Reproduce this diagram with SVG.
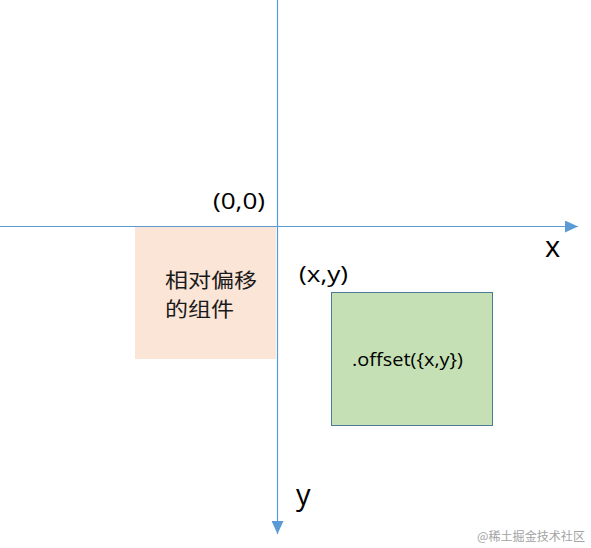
<svg xmlns="http://www.w3.org/2000/svg" width="591" height="548" viewBox="0 0 591 548">
<style>
.axis{stroke:#5B9BD5;stroke-width:1.2;fill:none}
.lbl{font-family:"Open Sans","Liberation Sans",sans-serif;fill:#000}
.cjk{font-family:"Noto Sans CJK SC","Noto Sans CJK JP",sans-serif;fill:#1a1a1a}
</style>
<defs>
<marker id="arr" markerUnits="userSpaceOnUse" markerWidth="14" markerHeight="12" refX="13" refY="6" orient="auto">
<path d="M0,0 L13,6 L0,12 Z" fill="#5B9BD5"/>
</marker>
</defs>
<rect width="591" height="548" fill="#fff"/>
<g id="parent">
<rect x="135" y="227" width="141" height="132" fill="#FBE5D6"/>
<text class="cjk" x="165" y="288" font-size="20" textLength="92" lengthAdjust="spacingAndGlyphs">相对偏移</text>
<text class="cjk" x="165" y="317" font-size="20" textLength="69" lengthAdjust="spacingAndGlyphs">的组件</text>
</g>
<g id="child">
<rect x="331.5" y="292.5" width="161" height="133" fill="#C5E0B4" stroke="#4A7A94" stroke-width="1"/>
<text class="lbl" x="352" y="366" font-size="19" textLength="111" lengthAdjust="spacingAndGlyphs">.offset({x,y})</text>
</g>
<g id="connectors">
<line class="axis" x1="0" y1="226.5" x2="578" y2="226.5" marker-end="url(#arr)"/>
<line class="axis" x1="277.5" y1="0" x2="277.5" y2="534" marker-end="url(#arr)"/>
</g>
<g id="labels">
<text class="lbl" x="213" y="209" font-size="22" textLength="52" lengthAdjust="spacingAndGlyphs">(0,0)</text>
<text class="lbl" x="545" y="257" font-size="29">x</text>
<text class="lbl" x="299" y="282" font-size="22" textLength="49" lengthAdjust="spacingAndGlyphs">(x,y)</text>
<text class="lbl" x="296" y="505" font-size="29">y</text>
<text x="477" y="541" font-size="12" fill="#a3a3a3" font-family="Noto Sans CJK SC,sans-serif" textLength="108" lengthAdjust="spacingAndGlyphs">@稀土掘金技术社区</text>
</g>
</svg>
